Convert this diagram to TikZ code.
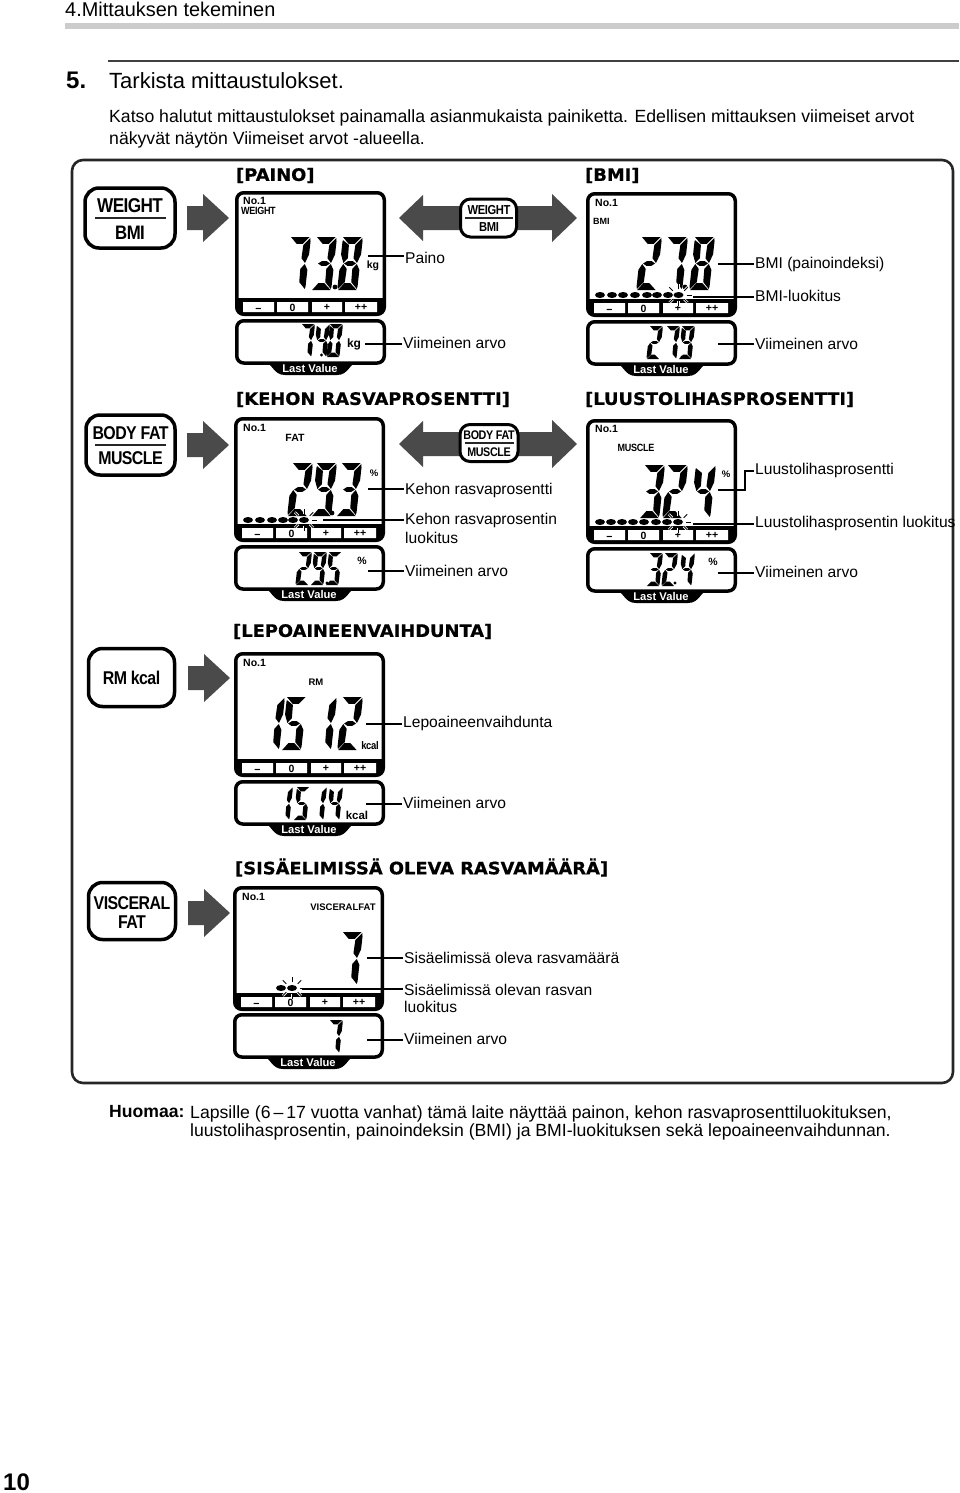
\documentclass[tikz,border=0pt]{standalone}
\usepackage{fontspec}
\usetikzlibrary{calc}
\setmainfont{Liberation Sans}
\newfontfamily\titlefont{DejaVu Sans Bold}[FakeBold=0.6,FakeStretch=1.04]
\newfontfamily\tightb{Liberation Sans Bold}[LetterSpace=-3,FakeStretch=.86]
\newfontfamily\lcdb{Liberation Sans Bold}
\definecolor{arrowgray}{HTML}{4A4A4A}
\tikzset{
  lbl/.style={anchor=west,inner sep=0pt,font=\fontsize{15.6}{18}\selectfont},
  sectitle/.style={anchor=west,inner sep=0pt,font=\titlefont\fontsize{17.15}{18}\selectfont},
  lead/.style={line width=1.5pt,black,shorten >=1.5pt},
  bigbtn/.style={draw=black,line width=3.5pt,rounded corners=14pt,fill=white,inner sep=0pt},
  smallbtn/.style={draw=black,line width=3pt,rounded corners=10pt,fill=white,inner sep=0pt},
  divider/.style={line width=1.6pt,black!85},
  arrowfill/.style={fill=arrowgray},
  lcdtxt/.style={inner sep=0pt,font=\lcdb\fontsize{10.5}{12}\selectfont},
  bodytext/.style={anchor=west,inner sep=0pt,font=\fontsize{17.65}{20}\selectfont},
}
% seven segments in a unit box
\def\sA{\fill (0,0)--(.93,0)--(.62,.13)--(.32,.13)--cycle;}
\def\sB{\fill (.97,.02)--(1,.08)--(1,.33)--(.84,.49)--(.64,.40)--(.66,.15)--cycle;}
\def\sC{\fill (.84,.51)--(1,.62)--(1,.93)--(.97,.98)--(.66,.85)--(.64,.6)--cycle;}
\def\sD{\fill (.32,.87)--(.62,.87)--(.97,1)--(.05,1)--cycle;}
\def\sE{\fill (.16,.51)--(.36,.6)--(.34,.85)--(.03,.98)--(0,.93)--(0,.62)--cycle;}
\def\sF{\fill (.16,.49)--(0,.33)--(0,.08)--(.02,.06)--(.34,.15)--(.36,.40)--cycle;}
\def\sG{\fill (.2,.5)--(.38,.455)--(.62,.455)--(.8,.5)--(.62,.545)--(.38,.545)--cycle;}
\expandafter\def\csname seg0\endcsname{\sA\sB\sC\sD\sE\sF}
\expandafter\def\csname seg1\endcsname{\sB\sC}
\expandafter\def\csname seg2\endcsname{\sA\sB\sG\sE\sD}
\expandafter\def\csname seg3\endcsname{\sA\sB\sG\sC\sD}
\expandafter\def\csname seg4\endcsname{\sF\sG\sB\sC}
\expandafter\def\csname seg5\endcsname{\sA\sF\sG\sC\sD}
\expandafter\def\csname seg7\endcsname{\sA\sB\sC}
\expandafter\def\csname seg8\endcsname{\sA\sB\sC\sD\sE\sF\sG}
\expandafter\def\csname seg9\endcsname{\sA\sB\sC\sD\sF\sG}
% digit: #1 value, #2 x of top left, #3 y top, #4 width, #5 height
\newcommand\lcdgt[5]{\begin{scope}[shift={(#2,#3)},xslant=.11,xscale=#4,yscale=#5]\csname seg#1\endcsname\end{scope}}
\newcommand\bigd[3]{\lcdgt{#1}{#2+2}{#3}{20}{53}}
\newcommand\smalld[3]{\lcdgt{#1}{#2+1}{#3}{13}{33}}
\newcommand\lcddot[3]{\fill (#1,#2) circle (#3);}
\newcommand\ovals[2]{\foreach \xx in {#2}{\fill (\xx,#1) ellipse (5 and 3);}}
\newcommand\flash[2]{%
  \foreach \aa in {0,45,90,135,180,225,270,315}{%
    \draw[white,line width=2.4pt] ($(#1,#2)+(\aa:8 and 6)$)--($(#1,#2)+(\aa:13 and 11)$);
    \draw[black,line width=.9pt] ($(#1,#2)+(\aa:8 and 6)$)--($(#1,#2)+(\aa:13 and 11)$);}%
  \fill (#1,#2) ellipse (5 and 3);}
% panel: #1 prefix, #2 x, #3 y, #4 y of last value panel
\newcommand\dpanel[4]{%
  \begin{scope}[shift={(#2,#3)}]
    \draw[line width=3.5pt,rounded corners=7pt,fill=white] (1.75,1.75) rectangle (149.25,123.25);
    \begin{scope}\clip (0,107) rectangle (151,126);
      \fill[rounded corners=7pt] (1.5,90) rectangle (149.5,124.5);\end{scope}
    \fill[white] (8,111) rectangle (39,121) (42,111) rectangle (73,121) (77,111) rectangle (107,121) (110,111) rectangle (142,121);
    \node[lcdtxt] (#1-a) at (23.5,119) {−};
    \node[lcdtxt] (#1-b) at (57.5,116.5) {0};
    \node[lcdtxt] (#1-c) at (92,116.5) {+};
    \node[lcdtxt] (#1-d) at (126,116.5) {++};
  \end{scope}
  \begin{scope}[shift={(#2,#4)}]
    \fill (28,42) .. controls (38,44) and (38,56) .. (50,56) -- (102,56) .. controls (114,56) and (114,44) .. (124,42) -- cycle;
    \draw[line width=3.5pt,rounded corners=7pt,fill=white] (1.75,1.75) rectangle (149.25,44);
    \node[lcdtxt,text=white,font=\lcdb\fontsize{11.2}{12}\selectfont] (#1-l) at (75,49.2) {Last Value};
  \end{scope}}
\newcommand\arrowR[2]{\fill[arrowfill] (#1,#2-12)--(#1+16,#2-12)--(#1+16,#2-24)--(#1+42,#2)--(#1+16,#2+24)--(#1+16,#2+12)--(#1,#2+12)--cycle;}
\newcommand\arrowLR[1]{\fill[arrowfill] (399,#1)--(423,#1-23)--(423,#1-12)--(552,#1-12)--(552,#1-24)--(577,#1)--(552,#1+24)--(552,#1+12)--(423,#1+12)--(423,#1+23)--cycle;}
\begin{document}
\begin{tikzpicture}[x=1pt,y=-1pt]
\useasboundingbox (0,0) rectangle (960,1493);
\fill[white] (0,0) rectangle (960,1493);
% page header
\node[anchor=west,inner sep=0pt,font=\fontsize{19.9}{22}\selectfont] (hdr) at (65,9) {4.Mittauksen tekeminen};
\fill[black!20] (65,23) rectangle (959,29);
\draw[line width=1.2pt,black!75] (108,61) -- (959,61);
\node[anchor=west,inner sep=0pt,font=\bfseries\fontsize{24}{26}\selectfont] (stepno) at (66,80) {5.};
\node[anchor=west,inner sep=0pt,font=\fontsize{22}{24}\selectfont] (steptitle) at (109,81) {Tarkista mittaustulokset.};
\node[bodytext] (b1) at (109,118) {Katso halutut mittaustulokset painamalla asianmukaista painiketta. Edellisen mittauksen viimeiset arvot};
\node[bodytext] (b2) at (109,140) {näkyvät näytön Viimeiset arvot -alueella.};
% frame
\draw[line width=2.6pt,black!85,rounded corners=11pt] (72,160) rectangle (953,1083);
% section titles
\node[sectitle] (t1) at (236,175.5) {[PAINO]};
\node[sectitle] (t2) at (585,175.5) {[BMI]};
\node[sectitle] (t3) at (236,399.5) {[KEHON RASVAPROSENTTI]};
\node[sectitle] (t4) at (585,399.5) {[LUUSTOLIHASPROSENTTI]};
\node[sectitle] (t5) at (233,631.5) {[LEPOAINEENVAIHDUNTA]};
\node[sectitle] (t6) at (235,867.5) {[SISÄELIMISSÄ OLEVA RASVAMÄÄRÄ]};
% arrows
\arrowR{187}{218}
\arrowR{187}{445}
\arrowR{188}{678}
\arrowR{188}{913}
\arrowLR{218}
\arrowLR{444}
% left buttons
\node[bigbtn,minimum width=90pt,minimum height=60pt] (btn1) at (130,218) {};
\draw[divider] (95,218) -- (166,218);
\node[inner sep=0pt,font=\tightb\fontsize{20}{22}\selectfont] (btn1a) at (130,206) {WEIGHT};
\node[inner sep=0pt,font=\tightb\fontsize{19.5}{22}\selectfont] (btn1b) at (130,233) {BMI};
\node[bigbtn,minimum width=89pt,minimum height=60pt] (btn2) at (130.5,445) {};
\draw[divider] (95,445) -- (166,445);
\node[inner sep=0pt,font=\tightb\fontsize{18.5}{22}\selectfont] (btn2a) at (130.5,433) {BODY FAT};
\node[inner sep=0pt,font=\tightb\fontsize{18.5}{22}\selectfont] (btn2b) at (130.5,458) {MUSCLE};
\node[bigbtn,minimum width=86pt,minimum height=58pt] (btn3) at (131.5,677.5) {};
\node[inner sep=0pt,font=\tightb\fontsize{18.5}{22}\selectfont] (btn3a) at (131.5,678) {RM kcal};
\node[bigbtn,minimum width=87pt,minimum height=57pt] (btn4) at (132,911) {};
\node[inner sep=0pt,font=\tightb\fontsize{18.5}{22}\selectfont] (btn4a) at (132,903) {VISCERAL};
\node[inner sep=0pt,font=\tightb\fontsize{18.5}{22}\selectfont] (btn4b) at (132,922) {FAT};
% small toggle buttons
\node[smallbtn,minimum width=56pt,minimum height=38pt] (sb1) at (488.5,218) {};
\draw[divider,line width=1.2pt] (465,218) -- (513,218);
\node[inner sep=0pt,font=\tightb\fontsize{13}{14}\selectfont] (sb1a) at (489,210) {WEIGHT};
\node[inner sep=0pt,font=\tightb\fontsize{13}{14}\selectfont] (sb1b) at (489,227) {BMI};
\node[smallbtn,minimum width=58pt,minimum height=37pt] (sb2) at (489,443) {};
\draw[divider,line width=1.2pt] (465,443) -- (514,443);
\node[inner sep=0pt,font=\tightb\fontsize{12.5}{14}\selectfont] (sb2a) at (489,435) {BODY FAT};
\node[inner sep=0pt,font=\tightb\fontsize{12.5}{14}\selectfont] (sb2b) at (489,452) {MUSCLE};
% panels
\dpanel{pa}{235}{191}{319}
\dpanel{pb}{586}{192}{320}
\dpanel{pc}{234}{417}{545}
\dpanel{pd}{586}{419}{547}
\dpanel{pe}{234}{652}{780}
\dpanel{pf}{233}{886}{1013}
% panel A
\node[lcdtxt,anchor=west] (a1) at (243,201) {No.1};
\node[lcdtxt,anchor=west,font=\tightb\fontsize{10.5}{12}\selectfont] (a2) at (241,211) {WEIGHT};
\bigd{7}{289}{237}\bigd{3}{315}{237}\bigd{8}{341}{237}\lcddot{335}{287}{2.4}
\node[lcdtxt,font=\lcdb\fontsize{10.5}{12}\selectfont] (a3) at (373,266) {kg};
\smalld{7}{301}{324}\smalld{4}{316}{324}\smalld{0}{329}{324}\lcddot{321.5}{355}{1.7}
\node[lcdtxt,font=\lcdb\fontsize{12}{12}\selectfont] (a4) at (354,344) {kg};
% panel B
\node[lcdtxt,anchor=west] (b3) at (595,203) {No.1};
\node[lcdtxt,anchor=west,font=\lcdb\fontsize{9}{12}\selectfont] (b4) at (593,221) {BMI};
\bigd{2}{640}{237}\bigd{7}{666}{237}\bigd{8}{693}{237}\lcddot{685}{287}{2.4}
\flash{678.5}{295}
\ovals{295}{600,612,623,635,647,657,668}
\smalld{2}{649}{326}\smalld{7}{666}{326}\smalld{9}{681}{326}\lcddot{682}{357}{1.7}
% panel C
\node[lcdtxt,anchor=west] (c1) at (243,428) {No.1};
\node[lcdtxt] (c2) at (295,438) {FAT};
\bigd{2}{291}{463}\bigd{9}{315}{463}\bigd{3}{340}{463}\lcddot{332}{513}{2.4}
\node[lcdtxt,font=\lcdb\fontsize{9.5}{12}\selectfont] (c3) at (374,473) {\%};
\flash{304}{520}
\ovals{520}{248,260,272,283,293}
\smalld{2}{298}{552}\smalld{9}{313}{552}\smalld{5}{328}{552}\lcddot{327}{583}{1.7}
\node[lcdtxt,font=\lcdb\fontsize{10.5}{12}\selectfont] (c4) at (362,561) {\%};
% panel D
\node[lcdtxt,anchor=west] (d1) at (595,429) {No.1};
\node[lcdtxt,font=\tightb\fontsize{10.5}{12}\selectfont] (d2) at (636,448) {MUSCLE};
\bigd{3}{643}{465}\bigd{2}{666}{465}\bigd{4}{694}{465}
\flash{678}{522}
\ovals{522}{600,611,622,633,644,656,667}
\smalld{3}{649}{553}\smalld{2}{664}{553}\smalld{4}{681}{553}\lcddot{675}{583}{1.7}
\node[lcdtxt,font=\lcdb\fontsize{9.5}{12}\selectfont] (d3) at (726,474) {\%};
\node[lcdtxt,font=\lcdb\fontsize{10.5}{12}\selectfont] (d4) at (713,562) {\%};
% panel E
\node[lcdtxt,anchor=west] (e1) at (243,663) {No.1};
\node[lcdtxt,font=\lcdb\fontsize{9.5}{12}\selectfont] (e2) at (316,682) {RM};
\bigd{1}{263}{697}\bigd{5}{285}{697}\bigd{1}{315}{697}\bigd{2}{341}{697}
\node[lcdtxt,font=\tightb\fontsize{11}{12}\selectfont] (e3) at (370,746) {kcal};
\smalld{1}{279}{787}\smalld{5}{296}{787}\smalld{1}{313}{787}\smalld{4}{329}{787}
\node[lcdtxt,font=\lcdb\fontsize{11.5}{12}\selectfont] (e4) at (357,815) {kcal};
% panel F
\node[lcdtxt,anchor=west] (f1) at (242,897) {No.1};
\node[lcdtxt,font=\lcdb\fontsize{9.5}{12}\selectfont] (f2) at (343,907) {VISCERALFAT};
\bigd{7}{341}{932}
\flash{292}{988}
\ovals{988}{281}
\smalld{7}{329}{1020}
% labels and leaders
\node[lbl] (l1) at (405,257.5) {Paino};
\coordinate (c1a) at (368,256); \draw[lead] (c1a) -- (c1a -| l1.west);
\node[lbl] (l2) at (403,343) {Viimeinen arvo};
\coordinate (c2a) at (365,344); \draw[lead] (c2a) -- (c2a -| l2.west);
\node[lbl] (l3) at (755,264.5) {BMI (painoindeksi)};
\coordinate (c3a) at (718,264); \draw[lead] (c3a) -- (c3a -| l3.west);
\node[lbl] (l4) at (755,296) {BMI-luokitus};
\coordinate (c4a) at (693,297); \draw[lead] (c4a) -- (c4a -| l4.west);
\node[lbl] (l5) at (755,343.5) {Viimeinen arvo};
\coordinate (c5a) at (718,344); \draw[lead] (c5a) -- (c5a -| l5.west);
\node[lbl] (l6) at (405,490) {Kehon rasvaprosentti};
\coordinate (c6a) at (368,489); \draw[lead] (c6a) -- (c6a -| l6.west);
\node[lbl] (l7) at (405,520) {Kehon rasvaprosentin};
\node[lbl] (l7b) at (405,538) {luokitus};
\coordinate (c7a) at (323,520); \draw[lead] (c7a) -- (c7a -| l7.west);
\node[lbl] (l8) at (405,570.5) {Viimeinen arvo};
\coordinate (c8a) at (368,571); \draw[lead] (c8a) -- (c8a -| l8.west);
\node[lbl] (l9) at (755,470.5) {Luustolihasprosentti};
\coordinate (c9a) at (718,490); \coordinate (c9b) at (745,490); \coordinate (c9c) at (745,471);
\draw[lead] (c9a) -- (c9b) -- (c9c) -- (c9c -| l9.west);
\node[lbl] (l10) at (755,523.5) {Luustolihasprosentin luokitus};
\coordinate (c10a) at (693,524); \draw[lead] (c10a) -- (c10a -| l10.west);
\node[lbl] (l11) at (755,572) {Viimeinen arvo};
\coordinate (c11a) at (718,573); \draw[lead] (c11a) -- (c11a -| l11.west);
\node[lbl] (l12) at (403,723.5) {Lepoaineenvaihdunta};
\coordinate (c12a) at (366,724); \draw[lead] (c12a) -- (c12a -| l12.west);
\node[lbl] (l13) at (403,803) {Viimeinen arvo};
\coordinate (c13a) at (366,804); \draw[lead] (c13a) -- (c13a -| l13.west);
\node[lbl] (l14) at (404,957.5) {Sisäelimissä oleva rasvamäärä};
\coordinate (c14a) at (367,958); \draw[lead] (c14a) -- (c14a -| l14.west);
\node[lbl] (l15) at (404,989.5) {Sisäelimissä olevan rasvan};
\node[lbl] (l15b) at (404,1007) {luokitus};
\coordinate (c15a) at (302,989); \draw[lead] (c15a) -- (c15a -| l15.west);
\node[lbl] (l16) at (404,1039) {Viimeinen arvo};
\coordinate (c16a) at (367,1040); \draw[lead] (c16a) -- (c16a -| l16.west);
% note
\node[anchor=west,inner sep=0pt,font=\bfseries\fontsize{17.6}{20}\selectfont] (n0) at (109,1112) {Huomaa:};
\node[bodytext] (n1) at (190,1114) {Lapsille (6\,–\,17 vuotta vanhat) tämä laite näyttää painon, kehon rasvaprosenttiluokituksen,};
\node[bodytext] (n2) at (190,1132) {luustolihasprosentin, painoindeksin (BMI) ja BMI-luokituksen sekä lepoaineenvaihdunnan.};
\node[anchor=west,inner sep=0pt,font=\bfseries\fontsize{24}{26}\selectfont] (pg) at (3,1482) {10};
\end{tikzpicture}
\end{document}
